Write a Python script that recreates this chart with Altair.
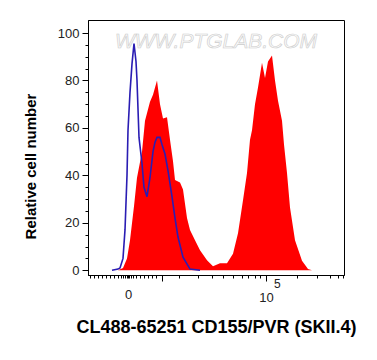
import altair as alt
import pandas as pd

# Display channel units (0-1024 across the plot) for the biexponential x axis
sample_ch = [120, 140, 156, 168, 184, 196, 216, 228, 248, 260, 276, 288, 300, 316, 328, 340, 348,
             368, 380, 396, 408, 428, 448, 476, 500, 528, 556, 580, 600, 620, 636, 648, 656, 668,
             680, 696, 708, 720, 736, 748, 760, 776, 784, 796, 808, 828, 856, 880, 896]
sample_val = [0, 1, 5, 12.6, 27, 39, 50, 63, 71, 74, 80, 70, 64, 64.5, 55, 46, 38,
              37, 34, 22, 17, 12.6, 8.4, 4.2, 1.7, 3, 3, 7, 15.6, 29.5, 41, 55, 59, 70,
              77, 87.5, 81, 88, 90.5, 80, 71.5, 63, 53, 41, 26.5, 12.6, 4, 0.5, 0]

control_ch = [96, 120, 128, 140, 148, 156, 160, 168, 176, 184, 192, 196, 204, 216, 224, 236,
              248, 260, 268, 276, 288, 296, 308, 320, 336, 348, 360, 380, 408, 448]
control_val = [0, 0.5, 1, 5, 17, 40, 59, 75, 87, 95.6, 88, 80, 56, 45, 35, 31,
               39, 50, 54, 56, 56, 53, 49, 42, 31, 22, 14, 5.5, 0.5, 0]

x_major = [296, 712]          # 10^4, 10^5
x_zero = 160                  # 0
x_minor = [8, 24, 40, 56, 72, 88, 104, 120, 132, 140, 148, 156, 164, 172, 180, 192, 208,
           224, 240, 256, 272, 364, 440, 496, 540, 580, 616, 640, 668, 688, 836, 916,
           968, 1000, 1020]
x_ticks = sorted(x_minor + x_major + [x_zero])
y_ticks = [0, 5, 10, 15, 20, 25, 30, 35, 40, 45, 50, 55, 60, 65, 70, 75, 80, 85, 90, 95, 100]

sample = pd.DataFrame({"ch": sample_ch, "count": sample_val})
control = pd.DataFrame({"ch": control_ch, "count": control_val})

FONT = "Liberation Sans"
W, H = 256, 255

xscale = alt.Scale(domain=[0, 1024], nice=False, zero=False)
yscale = alt.Scale(domain=[-2, 105.5], nice=False, zero=False)

major_test = " || ".join(f"datum.value == {v}" for v in x_major)
xaxis = alt.Axis(
    values=x_ticks,
    labelExpr=f"datum.value == {x_zero} ? '0' : (datum.value == {x_major[1]} ? '10' : '')",
    tickSize={"condition": {"test": major_test, "value": 6}, "value": 3},
    labelFont=FONT, labelFontSize=13, labelColor="#222", labelPadding=10,
    labelFlush=False, labelOverlap=False, labelBound=False,
    domainColor="black", tickColor="black", grid=False, ticks=True,
    title="CL488-65251 CD155/PVR (SKII.4)", titleFont=FONT, titleFontSize=18,
    titleFontWeight="bold", titleColor="black", titleX=W / 2, titleY=52,
    titleBaseline="middle",
)
yaxis = alt.Axis(
    values=y_ticks,
    labelExpr="datum.value % 20 == 0 ? datum.value : ''",
    tickSize={"condition": {"test": "datum.value % 20 == 0", "value": 6}, "value": 3},
    labelFont=FONT, labelFontSize=13, labelColor="#222", labelPadding=3,
    domainColor="black", tickColor="black", grid=False,
    title="Relative cell number", titleFont=FONT, titleFontSize=15,
    titleFontWeight="bold", titleColor="black", titleX=-58, titleY=146,
    titleBaseline="middle",
)

X = alt.X("ch:Q", scale=xscale, axis=xaxis)
Y = alt.Y("count:Q", scale=yscale, axis=yaxis)

watermark = alt.Chart(pd.DataFrame({"t": ["WWW.PTGLAB.COM"]})).mark_text(
    font=FONT, fontSize=21, fontStyle="italic", fill="#fafafa", stroke="#cccccc",
    strokeWidth=0.6, baseline="middle", align="center"
).encode(text="t:N", x=alt.value(W / 2), y=alt.value(22))

area = alt.Chart(sample).mark_area(color="#ff0000", opacity=1).encode(
    x=X, y=Y, y2=alt.datum(0),
)

line = alt.Chart(control).mark_line(color="#2a1db3", strokeWidth=1.6).encode(
    x=X, y=Y,
)

sup = alt.Chart(pd.DataFrame({"ch": [x_major[1]], "t": ["5"]})).mark_text(
    font=FONT, fontSize=12, color="#222", align="left", baseline="middle", dx=8
).encode(x=X, y=alt.value(H + 9), text="t:N")

chart = alt.layer(watermark, area, line, sup).properties(
    width=W, height=H,
    padding={"left": 80, "top": 12, "right": 25, "bottom": 77},
    autosize=alt.AutoSizeParams(type="none"),
).configure(background="white").configure_view(stroke="black", strokeWidth=1)

chart.save("out.html", embed_options={"renderer": "svg", "actions": False})
